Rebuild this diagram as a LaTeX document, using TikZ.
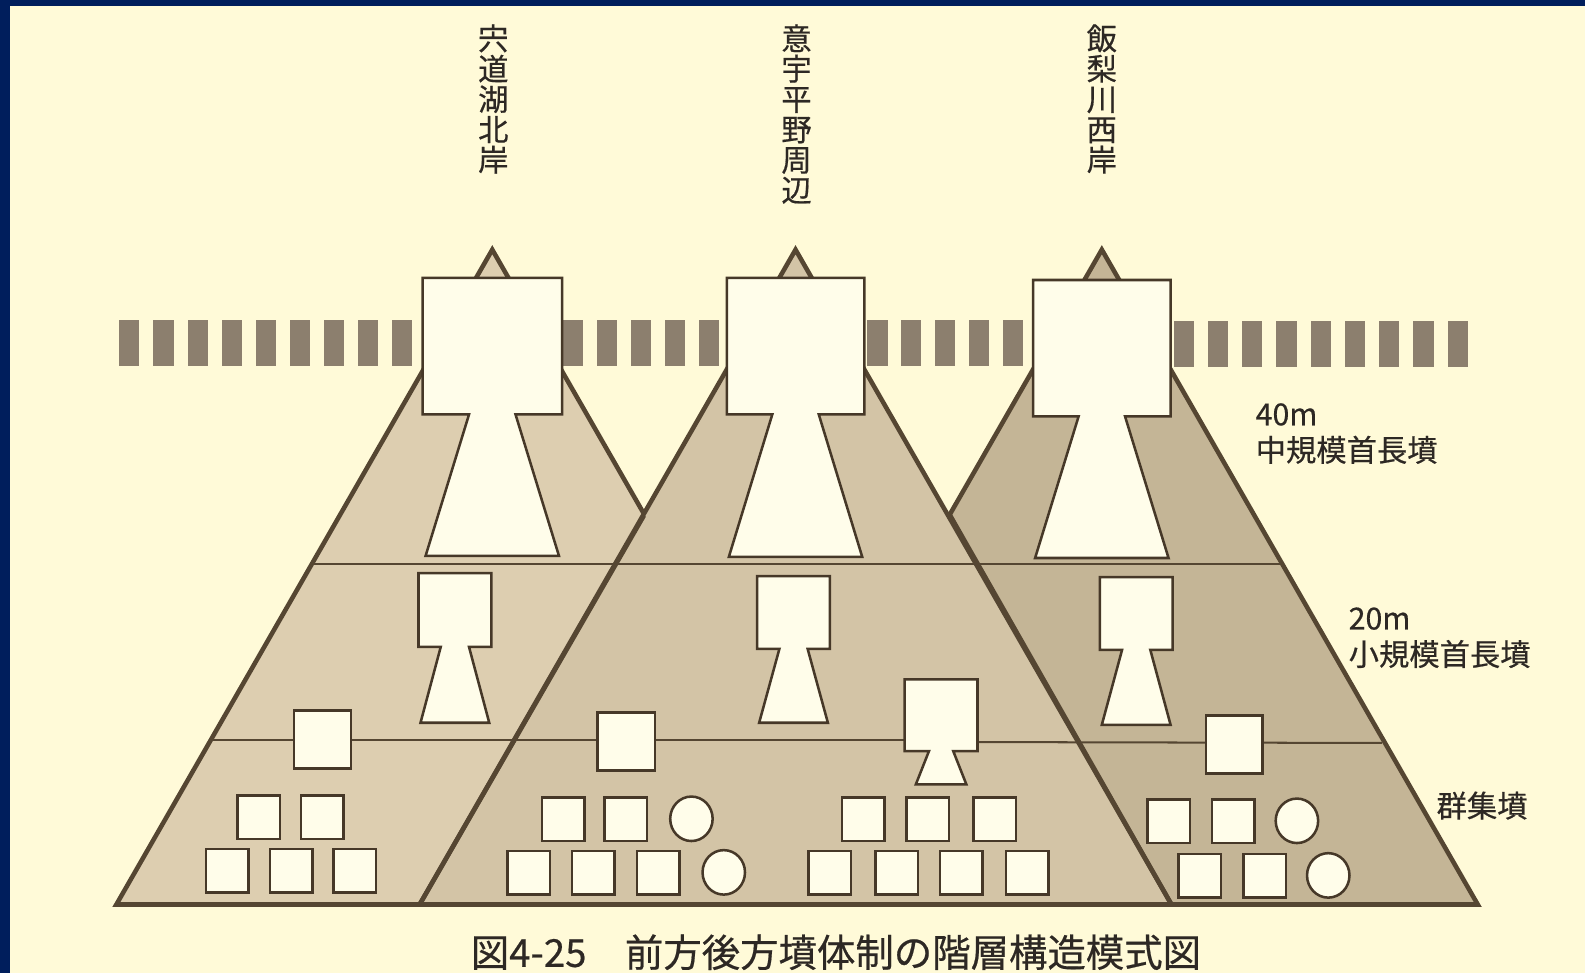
\documentclass[tikz,border=0pt]{standalone}
\usepackage{fontspec}
\setmainfont{Noto Sans CJK JP}[FakeBold=0.5]
\definecolor{navy}{RGB}{0,30,92}
\definecolor{cream}{RGB}{255,250,216}
\definecolor{pyrL}{RGB}{221,206,176}
\definecolor{pyrM}{RGB}{211,196,166}
\definecolor{pyrR}{RGB}{196,181,150}
\definecolor{edge}{RGB}{85,70,50}
\definecolor{barc}{RGB}{140,127,110}
\definecolor{tombfill}{RGB}{255,253,234}
\definecolor{tombline}{RGB}{70,56,40}
\definecolor{txt}{RGB}{45,40,36}
\newcommand{\zenpo}[7]{% cx, half width, y top, y neck, neck hw, y bottom, bottom hw
  \filldraw[tomb] ({#1-#2},#3) -- ({#1+#2},#3) -- ({#1+#2},#4) -- ({#1+#5},#4)
    -- ({#1+#7},#6) -- ({#1-#7},#6) -- ({#1-#5},#4) -- ({#1-#2},#4) -- cycle;}
\newcommand{\hofun}[2]{\filldraw[tomb] (#1,#2) rectangle ++(42,43);}
\newcommand{\enfun}[2]{\filldraw[tomb] (#1,#2) ellipse [x radius=21pt, y radius=22pt];}
\begin{document}
\begin{tikzpicture}[x=1pt,y=-1pt,
  pyr/.style={draw=edge, line width=4.5pt, line join=miter},
  tier/.style={draw=edge, line width=2pt},
  tomb/.style={fill=tombfill, draw=tombline, line width=2.5pt, line join=miter},
  bar/.style={fill=barc},
  lbl/.style={text=txt, inner sep=0pt, font=\fontsize{30}{32}\selectfont},
  vlbl/.style={text=txt, inner sep=0pt, anchor=north, align=center, font=\fontsize{30}{30}\selectfont}]
\useasboundingbox (0,0) rectangle (1568,963);
\fill[navy] (0,0) rectangle (1568,963);
\fill[cream] (10,6) rectangle (1568,963);

% vertical labels
\node[vlbl] (lab1) at (488,24) {宍\\道\\湖\\北\\岸};
\node[vlbl] (lab2) at (788,24) {意\\宇\\平\\野\\周\\辺};
\node[vlbl] (lab3) at (1090,24) {飯\\梨\\川\\西\\岸};

% pyramids
\coordinate (aL) at (487,247);
\coordinate (aM) at (787,247);
\coordinate (aR) at (1090,247);
\filldraw[pyr, fill=pyrL] (aL) -- (115,895) -- (859,895) -- cycle;
\filldraw[pyr, fill=pyrR] (aR) -- (718,895) -- (1462,895) -- cycle;
\filldraw[pyr, fill=pyrM] (aM) -- (415,895) -- (1159,895) -- cycle;

% tier lines
\draw[tier] (311,558) -- (1266,558);
\draw[tier] (211,732) -- (928,732);
\draw[tier] (928,734) -- (1367,735);
\draw[edge, line width=4.5pt] (637,510) -- (415,895);
\draw[edge, line width=4.5pt] (940,510) -- (1159,895);
\draw[edge, line width=5.5pt] (115,895) -- (1462,895);

% dashed bar
\foreach \i in {0,...,8} \fill[bar] ({118+\i*33.75},317) rectangle ++(20,45);
\foreach \i in {0,...,4} \fill[bar] ({557+\i*33.5},317) rectangle ++(20,45);
\foreach \i in {0,...,4} \fill[bar] ({858+\i*33.5},317) rectangle ++(20,45);
\foreach \i in {0,...,8} \fill[bar] ({1161+\i*33.9},318) rectangle ++(20,45);

% large zenpo-koho-fun (40m)
\zenpo{487}{69}{275}{410}{23}{550}{66}
\zenpo{787}{68}{275}{410}{23}{551}{66}
\zenpo{1090}{68}{277}{412}{23}{552}{66}

% small zenpo-koho-fun (20m)
\zenpo{450}{36}{567}{640}{14}{715}{34}
\zenpo{785}{36}{570}{642}{14}{715}{34}
\zenpo{1124}{36}{571}{643}{14}{717}{34}
\zenpo{931}{36}{672}{743}{12}{776}{25}

% square tombs at tier boundary
\filldraw[tomb] (291,703) rectangle (347,760);
\filldraw[tomb] (591,705) rectangle (648,762);
\filldraw[tomb] (1193,708) rectangle (1249,765);

% group tombs: left
\hofun{235}{787}\hofun{298}{787}
\hofun{204}{840}\hofun{267}{840}\hofun{330}{840}
% middle left
\hofun{536}{789}\hofun{598}{789}\enfun{684}{810}
\hofun{502}{842}\hofun{566}{842}\hofun{630}{842}\enfun{716}{863}
% middle right
\hofun{833}{789}\hofun{897}{789}\hofun{963}{789}
\hofun{800}{842}\hofun{866}{842}\hofun{930}{842}\hofun{995}{842}
% right
\hofun{1135}{791}\hofun{1199}{791}\enfun{1283}{812}
\hofun{1166}{845}\hofun{1230}{845}\enfun{1314}{866}

% right labels
\node[lbl, anchor=west] (m40) at (1242,410) {40m};
\node[lbl, anchor=west] (chu) at (1242,445) {中規模首長墳};
\node[lbl, anchor=west] (m20) at (1334,612) {20m};
\node[lbl, anchor=west] (sho) at (1334,647) {小規模首長墳};
\node[lbl, anchor=west] (gun) at (1421,797) {群集墳};

% caption
\node[text=txt, inner sep=0pt, font=\fontsize{38}{40}\selectfont] (cap) at (827,942) {図4-25　前方後方墳体制の階層構造模式図};
\end{tikzpicture}
\end{document}
